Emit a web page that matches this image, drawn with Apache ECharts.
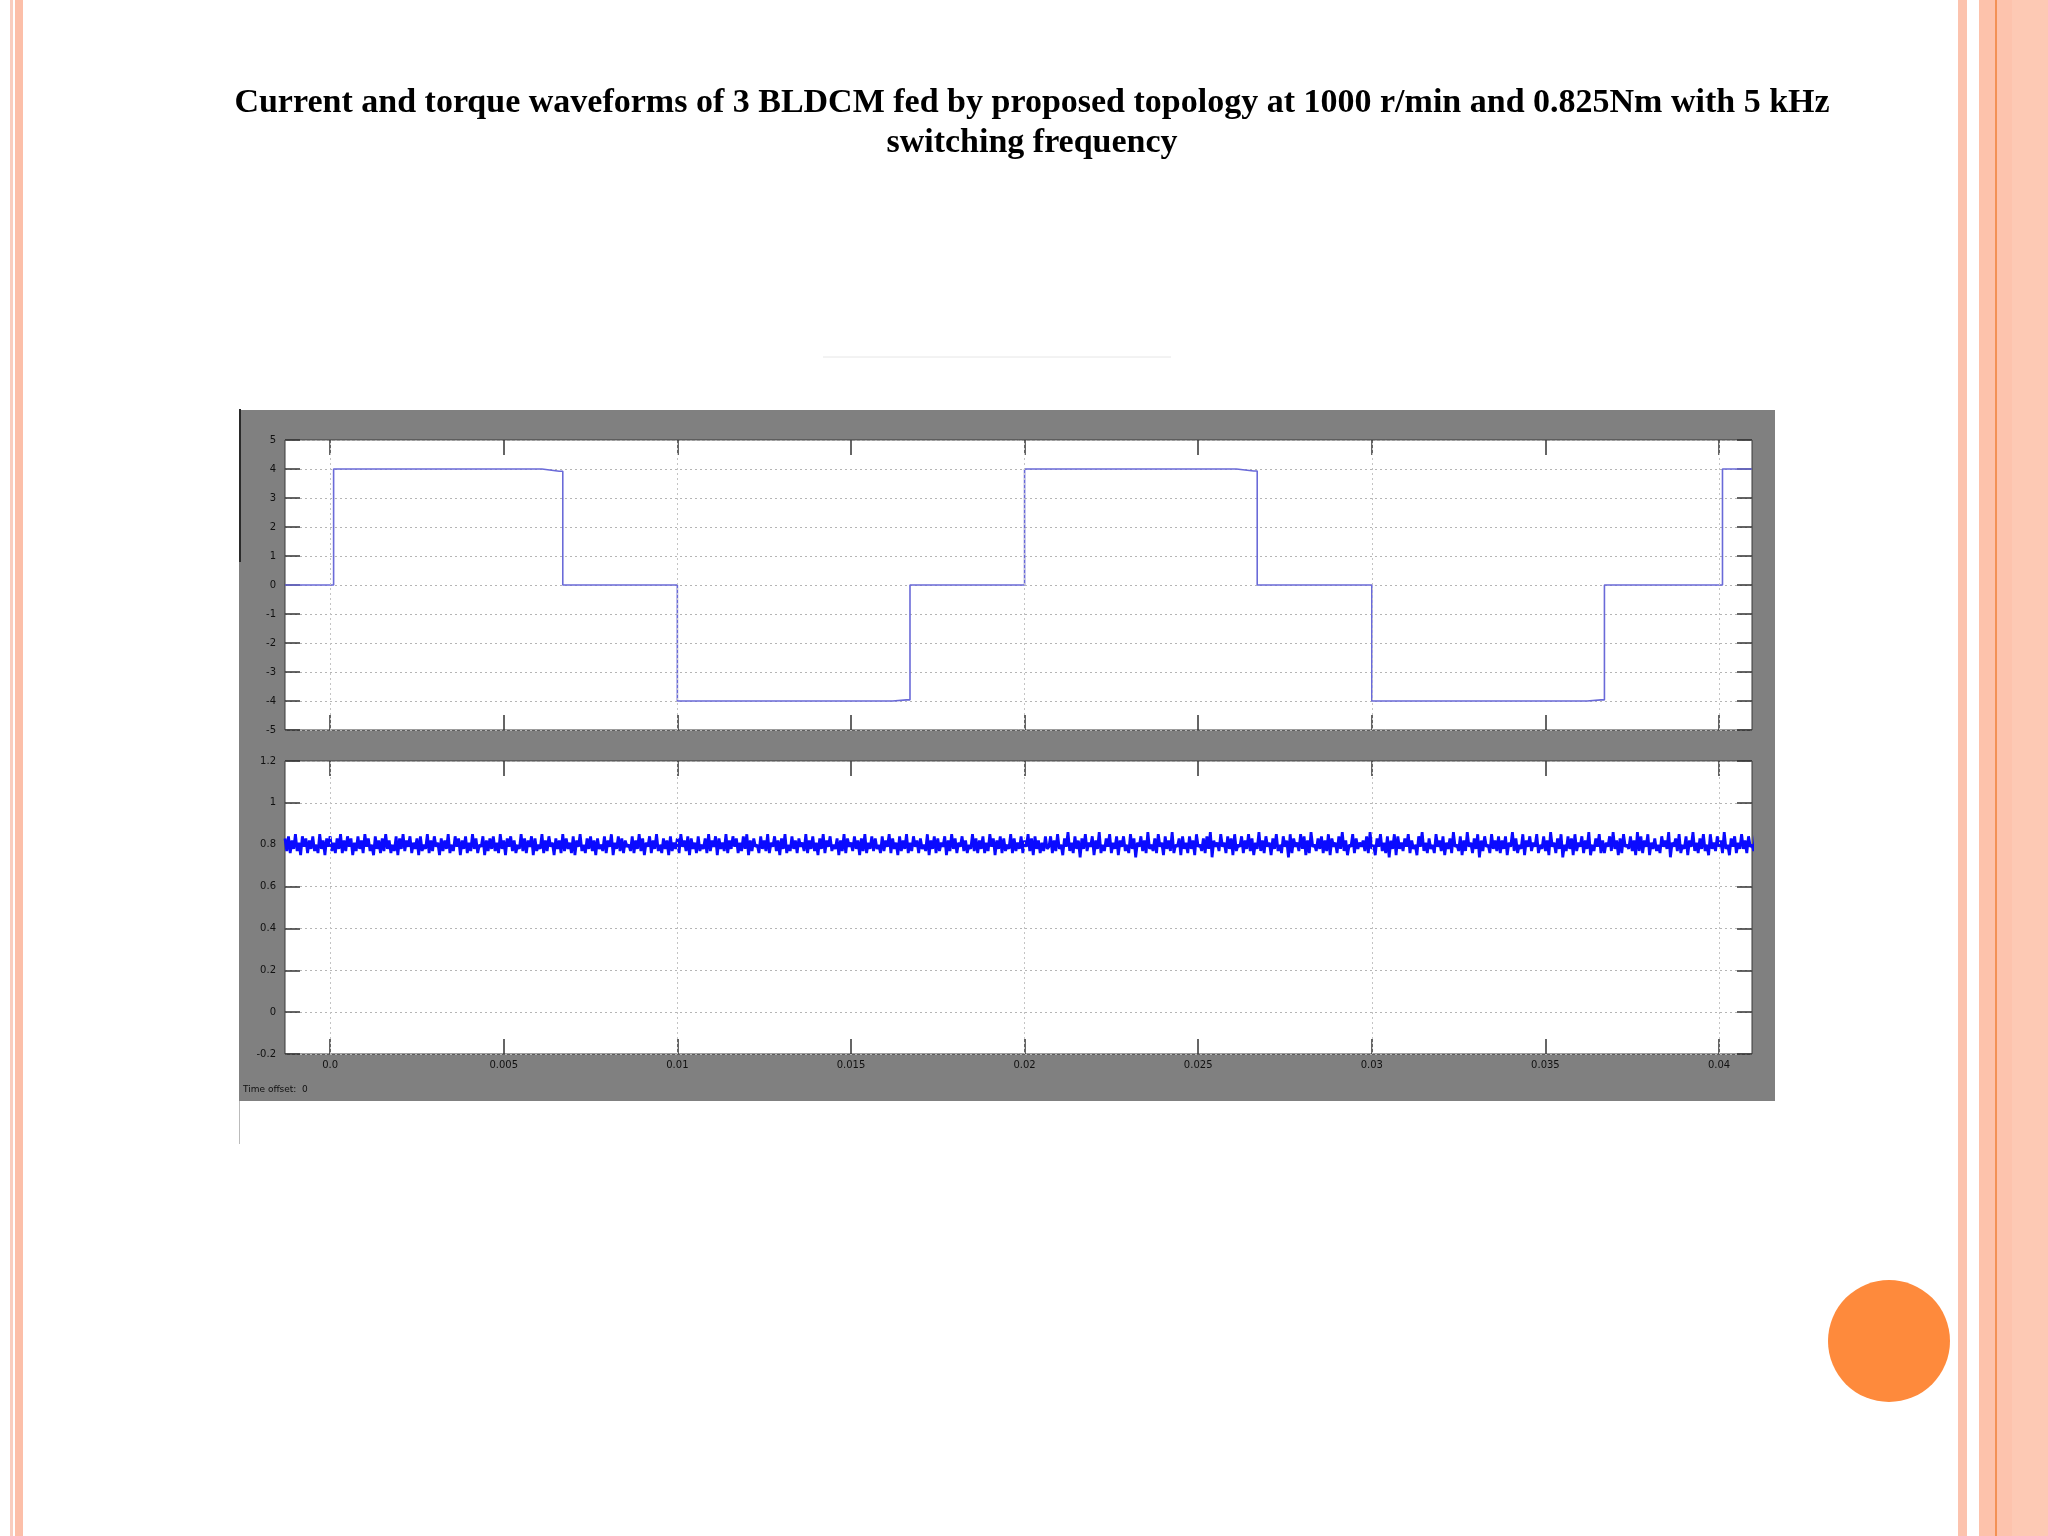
<!DOCTYPE html>
<html>
<head>
<meta charset="utf-8">
<script src="https://cdn.jsdelivr.net/npm/echarts@6/dist/echarts.min.js"></script>
<style>
html,body{margin:0;padding:0;background:#fff;}
#chart{width:2048px;height:1536px;}
</style>
</head>
<body>
<div id="chart"></div>
<script>
// ---- Data ----
var titleLines = [
  'Current and torque waveforms of 3 BLDCM fed by proposed topology at 1000 r/min and 0.825Nm with 5 kHz',
  'switching frequency'
];
var timeMin = -0.0013;
var timeMax = 0.04095;
var xTickValues = [0, 0.005, 0.01, 0.015, 0.02, 0.025, 0.03, 0.035, 0.04];
var xTickLabels = ['0.0', '0.005', '0.01', '0.015', '0.02', '0.025', '0.03', '0.035', '0.04'];

// phase current (A) : step waveform, time (s) / value pairs
var currentTimes  = [-0.0013, 0.0001, 0.0001, 0.0061, 0.0066, 0.0067, 0.0067, 0.0100, 0.0100, 0.0162, 0.0166, 0.0167, 0.0167, 0.0200, 0.0200, 0.0261, 0.0266, 0.0267, 0.0267, 0.0300, 0.0300, 0.0362, 0.0366, 0.0367, 0.0367, 0.0401, 0.0401, 0.04095];
var currentValues = [0, 0, 4, 4, 3.92, 3.92, 0, 0, -4, -4, -3.96, -3.96, 0, 0, 4, 4, 3.93, 3.93, 0, 0, -4, -4, -3.96, -3.96, 0, 0, 4, 4];

// electromagnetic torque (Nm) : sampled every torqueStep seconds from torqueStart
var torqueStart = -0.0013;
var torqueStep = 0.00005;
var torqueValues = [
0.83,0.77,0.84,0.76,0.82,0.78,0.85,0.77,0.81,0.75,0.84,0.79,0.83,0.76,0.82,0.78,0.84,0.77,0.80,0.76,
0.85,0.78,0.82,0.75,0.83,0.79,0.84,0.77,0.81,0.76,0.83,0.78,0.85,0.76,0.82,0.77,0.84,0.79,0.83,0.75,
0.81,0.77,0.84,0.78,0.82,0.76,0.85,0.79,0.83,0.77,0.80,0.75,0.84,0.78,0.82,0.76,0.83,0.77,0.85,0.78,
0.82,0.76,0.80,0.77,0.84,0.75,0.83,0.78,0.85,0.77,0.82,0.79,0.84,0.76,0.81,0.78,0.83,0.75,0.84,0.77,
0.80,0.78,0.85,0.76,0.82,0.77,0.84,0.79,0.81,0.75,0.83,0.77,0.82,0.78,0.85,0.76,0.80,0.77,0.84,0.79,
0.83,0.75,0.82,0.78,0.84,0.76,0.81,0.77,0.85,0.78,0.83,0.76,0.80,0.79,0.84,0.75,0.82,0.77,0.83,0.78,
0.84,0.77,0.81,0.76,0.85,0.78,0.82,0.75,0.83,0.79,0.84,0.77,0.82,0.76,0.80,0.78,0.85,0.77,0.83,0.76,
0.82,0.79,0.84,0.75,0.83,0.77,0.80,0.78,0.85,0.76,0.82,0.77,0.84,0.79,0.81,0.75,0.83,0.78,0.82,0.76,
0.85,0.77,0.83,0.78,0.81,0.76,0.84,0.75,0.82,0.79,0.85,0.77,0.80,0.76,0.83,0.78,0.84,0.77,0.82,0.75,
0.83,0.78,0.80,0.77,0.84,0.76,0.82,0.79,0.85,0.75,0.81,0.78,0.84,0.77,0.83,0.76,0.82,0.79,0.80,0.77,
0.84,0.76,0.82,0.78,0.85,0.77,0.83,0.75,0.81,0.79,0.84,0.76,0.82,0.78,0.85,0.77,0.80,0.76,0.83,0.78,
0.82,0.75,0.84,0.77,0.81,0.78,0.83,0.76,0.85,0.79,0.82,0.77,0.84,0.75,0.83,0.78,0.81,0.76,0.84,0.77,
0.80,0.78,0.83,0.76,0.85,0.77,0.82,0.79,0.84,0.75,0.83,0.78,0.81,0.77,0.85,0.76,0.82,0.78,0.84,0.79,
0.83,0.76,0.81,0.77,0.84,0.78,0.85,0.75,0.82,0.77,0.83,0.79,0.80,0.76,0.84,0.78,0.82,0.77,0.85,0.76,
0.81,0.79,0.84,0.77,0.82,0.75,0.83,0.78,0.85,0.76,0.80,0.77,0.84,0.78,0.82,0.76,0.83,0.79,0.81,0.77,
0.85,0.76,0.82,0.78,0.84,0.77,0.81,0.75,0.83,0.78,0.85,0.76,0.82,0.79,0.84,0.77,0.80,0.78,0.83,0.75,
0.82,0.77,0.85,0.76,0.83,0.79,0.81,0.77,0.84,0.78,0.82,0.75,0.83,0.77,0.85,0.76,0.81,0.78,0.84,0.77,
0.83,0.78,0.80,0.76,0.84,0.77,0.82,0.79,0.85,0.76,0.83,0.78,0.81,0.75,0.84,0.77,0.82,0.78,0.85,0.76,
0.81,0.77,0.84,0.79,0.82,0.76,0.83,0.78,0.80,0.77,0.85,0.75,0.82,0.78,0.84,0.76,0.83,0.77,0.81,0.79,
0.84,0.75,0.82,0.77,0.85,0.78,0.83,0.76,0.81,0.79,0.84,0.77,0.82,0.76,0.80,0.78,0.85,0.77,0.83,0.76,
0.82,0.78,0.84,0.76,0.81,0.77,0.85,0.79,0.83,0.75,0.82,0.78,0.84,0.76,0.83,0.77,0.80,0.78,0.85,0.76,
0.83,0.77,0.81,0.78,0.84,0.76,0.82,0.79,0.85,0.77,0.83,0.75,0.84,0.78,0.82,0.76,0.81,0.77,0.84,0.78,
0.79,0.84,0.76,0.82,0.77,0.85,0.78,0.80,0.75,0.83,0.79,0.86,0.77,0.81,0.76,0.84,0.78,0.82,0.74,0.83,
0.78,0.85,0.77,0.81,0.79,0.84,0.75,0.82,0.78,0.86,0.76,0.80,0.77,0.83,0.79,0.85,0.76,0.81,0.78,0.84,
0.75,0.82,0.79,0.84,0.77,0.80,0.76,0.85,0.78,0.83,0.74,0.81,0.79,0.84,0.77,0.82,0.76,0.86,0.78,0.80,
0.77,0.83,0.76,0.85,0.79,0.81,0.75,0.84,0.78,0.82,0.77,0.86,0.76,0.80,0.79,0.83,0.75,0.84,0.78,0.81,
0.76,0.84,0.78,0.82,0.75,0.85,0.79,0.80,0.77,0.83,0.76,0.84,0.78,0.86,0.74,0.82,0.79,0.81,0.77,0.85,
0.79,0.81,0.76,0.84,0.78,0.83,0.75,0.85,0.77,0.80,0.79,0.84,0.76,0.82,0.78,0.85,0.77,0.83,0.75,0.81,
0.78,0.86,0.77,0.82,0.76,0.84,0.79,0.81,0.75,0.83,0.78,0.85,0.77,0.80,0.76,0.84,0.79,0.82,0.74,0.85,
0.76,0.83,0.79,0.81,0.77,0.85,0.78,0.84,0.75,0.82,0.76,0.86,0.79,0.80,0.77,0.83,0.78,0.84,0.76,0.82,
0.77,0.85,0.75,0.83,0.79,0.81,0.76,0.84,0.78,0.86,0.77,0.82,0.75,0.80,0.79,0.85,0.76,0.83,0.78,0.81,
0.79,0.82,0.77,0.84,0.76,0.86,0.78,0.80,0.75,0.83,0.79,0.85,0.77,0.81,0.76,0.84,0.74,0.82,0.78,0.85,
0.75,0.84,0.78,0.81,0.77,0.83,0.79,0.85,0.76,0.82,0.78,0.80,0.75,0.84,0.79,0.86,0.77,0.81,0.76,0.83,
0.78,0.80,0.76,0.85,0.79,0.82,0.77,0.84,0.75,0.81,0.78,0.83,0.76,0.86,0.79,0.80,0.77,0.84,0.75,0.82,
0.77,0.86,0.79,0.81,0.76,0.83,0.78,0.85,0.74,0.82,0.77,0.84,0.79,0.80,0.76,0.85,0.78,0.82,0.77,0.84,
0.76,0.82,0.78,0.84,0.75,0.81,0.79,0.86,0.77,0.83,0.76,0.80,0.78,0.85,0.75,0.82,0.79,0.84,0.77,0.81,
0.79,0.85,0.76,0.80,0.78,0.84,0.77,0.82,0.75,0.86,0.79,0.81,0.76,0.83,0.78,0.85,0.74,0.80,0.77,0.84,
0.78,0.83,0.75,0.85,0.77,0.81,0.79,0.84,0.76,0.82,0.78,0.86,0.75,0.80,0.77,0.83,0.79,0.85,0.76,0.82,
0.76,0.81,0.79,0.84,0.77,0.86,0.78,0.82,0.75,0.83,0.76,0.85,0.79,0.80,0.78,0.84,0.77,0.82,0.75,0.86,
0.77,0.84,0.76,0.82,0.79,0.85,0.75,0.81,0.78,0.83,0.77,0.80,0.76,0.84,0.79,0.82,0.78,0.86,0.74,0.81,
0.79,0.83,0.77,0.85,0.76,0.80,0.78,0.84,0.75,0.82,0.79,0.86,0.77,0.81,0.76,0.83,0.78,0.85,0.77,0.80,
0.75,0.85,0.78,0.81,0.77,0.84,0.79,0.82,0.76,0.86,0.78,0.80,0.75,0.83,0.79,0.84,0.76,0.81,0.78,0.85,
0.78,0.82,0.76,0.84,0.79,0.80,0.77,0.85,0.75,0.83,0.78,0.81,0.76,0.86,0.77,0.82,0.79,0.84,0.75,0.83,
0.76,0.84,0.79,0.82,0.77,0.85,0.78,0.80,0.76,0.83,0.79,0.86,0.75,0.81,0.78,0.84,0.77,0.82,0.76,0.85
];

var currentAxis = {min: -5, max: 5, interval: 1};
var torqueAxis = {min: -0.2, max: 1.2, interval: 0.2};
var timeOffsetText = 'Time offset:  0';

// ---- Build chart ----
var currentData = currentTimes.map(function (t, i) { return [t, currentValues[i]]; });
var torqueData = torqueValues.map(function (v, i) { return [torqueStart + i * torqueStep, v]; });

var G0 = {left: 285, top: 440, width: 1467, height: 290};
var G1 = {left: 285, top: 761, width: 1467, height: 293};

var tickStyle = {show: true, inside: true, length: 15, lineStyle: {color: '#333', width: 1.5}};
var hGrid = {show: true, lineStyle: {color: '#b5b5b5', width: 1, type: [2, 3]}};
var labelStyle = {color: '#111', fontSize: 10, fontFamily: 'DejaVu Sans'};

function xAxisFor(gridIndex, position, showLabel) {
  return {
    type: 'value', gridIndex: gridIndex, position: position,
    min: timeMin, max: timeMax,
    axisLine: {show: false, onZero: false},
    axisTick: Object.assign({customValues: xTickValues}, tickStyle),
    axisLabel: Object.assign({
      show: showLabel, margin: 6, customValues: xTickValues,
      formatter: function (v) {
        for (var i = 0; i < xTickValues.length; i++) {
          if (Math.abs(xTickValues[i] - v) < 1e-9) return xTickLabels[i];
        }
        return '';
      }
    }, labelStyle),
    splitLine: {show: false}
  };
}
function yAxisFor(gridIndex, position, showLabel, ax) {
  return {
    type: 'value', gridIndex: gridIndex, position: position,
    min: ax.min, max: ax.max, interval: ax.interval,
    axisLine: {show: false, onZero: false},
    axisTick: tickStyle,
    axisLabel: Object.assign({show: showLabel, margin: 9}, labelStyle),
    splitLine: position === 'left' ? hGrid : {show: false}
  };
}

var vGridLines = {
  silent: true, symbol: ['none', 'none'], animation: false,
  label: {show: false},
  lineStyle: {color: '#c4c4c4', width: 1, type: [2, 3]},
  emphasis: {disabled: true},
  data: xTickValues.map(function (v) { return {xAxis: v}; })
};

var titleFont = {fill: '#000', fontSize: 34, fontWeight: 'bold', fontFamily: 'Liberation Serif', align: 'center', verticalAlign: 'middle'};

var graphics = [
  // slide decoration
  {type: 'rect', shape: {x: 10, y: 0, width: 3, height: 1536}, style: {fill: '#f9cdbf'}, z: -100},
  {type: 'rect', shape: {x: 15, y: 0, width: 8, height: 1536}, style: {fill: '#fcbfa9'}, z: -100},
  {type: 'rect', shape: {x: 1958, y: 0, width: 9, height: 1536}, style: {fill: '#fcc3ae'}, z: -100},
  {type: 'rect', shape: {x: 1979, y: 0, width: 16, height: 1536}, style: {fill: '#fdc2ab'}, z: -100},
  {type: 'rect', shape: {x: 1995, y: 0, width: 2, height: 1536}, style: {fill: '#f39155'}, z: -100},
  {type: 'rect', shape: {x: 1997, y: 0, width: 15, height: 1536}, style: {fill: '#fdc3ad'}, z: -100},
  {type: 'rect', shape: {x: 2012, y: 0, width: 36, height: 1536}, style: {fill: '#fdc9b4'}, z: -100},
  {type: 'circle', shape: {cx: 1889, cy: 1341, r: 61}, style: {fill: '#fe8a3c'}, z: -100},
  {type: 'line', shape: {x1: 823, y1: 357, x2: 1171, y2: 357}, style: {stroke: '#e6e6e6', lineWidth: 1}, z: -100},
  // scope window
  {type: 'rect', shape: {x: 239, y: 410, width: 1536, height: 691}, style: {fill: '#808080'}, z: -90},
  {type: 'line', shape: {x1: 240, y1: 409, x2: 240, y2: 562}, style: {stroke: '#2a2a2a', lineWidth: 2}, z: -89},
  {type: 'line', shape: {x1: 239.5, y1: 1101, x2: 239.5, y2: 1144}, style: {stroke: '#bbbbbb', lineWidth: 1}, z: -89},
  {type: 'rect', shape: {x: G0.left, y: G0.top, width: G0.width, height: G0.height}, style: {fill: '#ffffff'}, z: -80},
  {type: 'rect', shape: {x: G1.left, y: G1.top, width: G1.width, height: G1.height}, style: {fill: '#ffffff'}, z: -80},
  {type: 'text', x: 243, y: 1090, style: {text: timeOffsetText, fill: '#111', fontSize: 9, fontFamily: 'DejaVu Sans', verticalAlign: 'middle'}, z: 10},
  // title
  {type: 'text', x: 1032, y: 103, style: Object.assign({text: titleLines[0]}, titleFont), z: 10},
  {type: 'text', x: 1032, y: 143, style: Object.assign({text: titleLines[1]}, titleFont), z: 10}
];

var option = {
  animation: false,
  backgroundColor: '#ffffff',
  graphic: {elements: graphics},
  grid: [
    Object.assign({show: true, backgroundColor: 'transparent', borderColor: '#3a3a3a', borderWidth: 1}, G0),
    Object.assign({show: true, backgroundColor: 'transparent', borderColor: '#3a3a3a', borderWidth: 1}, G1)
  ],
  xAxis: [
    xAxisFor(0, 'bottom', false),
    xAxisFor(0, 'top', false),
    xAxisFor(1, 'bottom', true),
    xAxisFor(1, 'top', false)
  ],
  yAxis: [
    yAxisFor(0, 'left', true, currentAxis),
    yAxisFor(0, 'right', false, currentAxis),
    yAxisFor(1, 'left', true, torqueAxis),
    yAxisFor(1, 'right', false, torqueAxis)
  ],
  series: [
    {
      name: 'Current', type: 'line', xAxisIndex: 0, yAxisIndex: 0,
      data: currentData, showSymbol: false, symbol: 'none',
      lineStyle: {color: '#6a6ad8', width: 1.6}, itemStyle: {color: '#6a6ad8'},
      markLine: vGridLines, z: 3
    },
    {
      name: 'Torque', type: 'line', xAxisIndex: 2, yAxisIndex: 2,
      data: torqueData, showSymbol: false, symbol: 'none', clip: true,
      lineStyle: {color: '#0a0aff', width: 2.8}, itemStyle: {color: '#0a0aff'},
      markLine: vGridLines, z: 3
    }
  ]
};

var chart = echarts.init(document.getElementById('chart'), null, {renderer: 'canvas'});
chart.setOption(option);
</script>
</body>
</html>
